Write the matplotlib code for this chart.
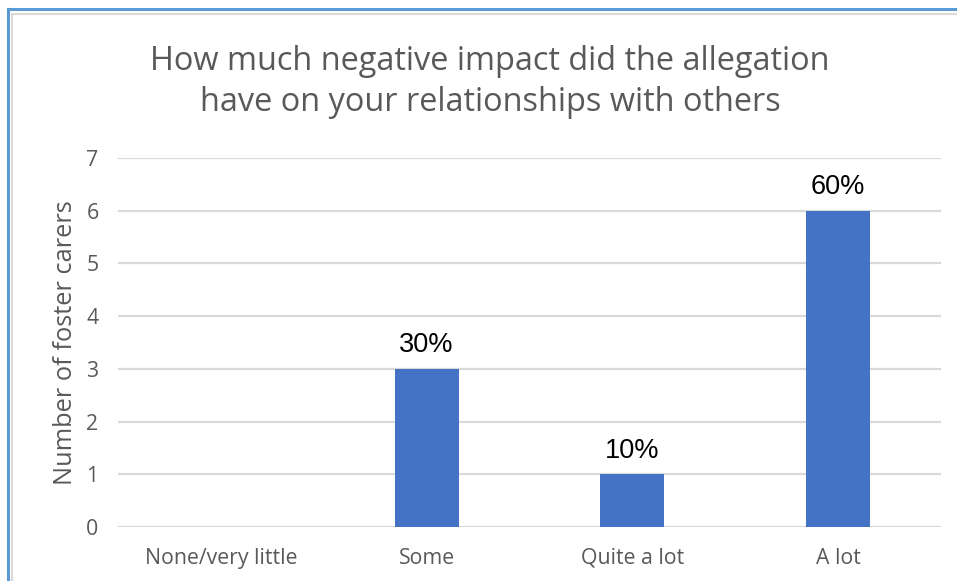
import matplotlib.pyplot as plt
from matplotlib.lines import Line2D

categories = ["None/very little", "Some", "Quite a lot", "A lot"]
carers = [0, 3, 1, 6]
pct_labels = ["", "30%", "10%", "60%"]
y_ticks = [0, 1, 2, 3, 4, 5, 6, 7]

BAR = "#4472C4"
TEXT = "#595959"
GRID = "#D9D9D9"

W, H = 957, 581
fig = plt.figure(figsize=(W / 100, H / 100), dpi=100)
fig.patch.set_facecolor("white")

# plot area in pixel coordinates
left, right, top, bottom = 118, 941, 158, 527
ax = fig.add_axes([left / W, 1 - bottom / H, (right - left) / W, (bottom - top) / H])

x = range(len(categories))
bars = ax.bar(x, carers, width=0.31, color=BAR, zorder=3)
for b, v, lab in zip(bars, carers, pct_labels):
    if lab:
        ax.text(b.get_x() + b.get_width() / 2, v + 0.2, lab, ha="center", va="bottom",
                fontsize=19.5, family="Liberation Sans", color="black")

ax.set_xlim(-0.5, len(categories) - 0.5)
ax.set_ylim(0, 7)
ax.set_yticks(y_ticks)
ax.yaxis.grid(True, color=GRID, linewidth=1.6, zorder=0)
ax.set_axisbelow(True)
for s in ax.spines.values():
    s.set_visible(False)
ax.tick_params(length=0, labelsize=15.3, labelcolor=TEXT, pad=14)
ax.tick_params(axis="x", pad=15)
ax.set_xticks(list(x))
ax.set_xticklabels(categories, family="Open Sans")
for t in ax.get_yticklabels():
    t.set_family("Open Sans")

ax.set_ylabel("Number of foster carers", fontsize=18.3, color=TEXT, family="Open Sans", labelpad=6)

fig.text(490 / W, 1 - 82 / H, "How much negative impact did the allegation\nhave on your relationships with others",
         ha="center", va="center", fontsize=23.4, color=TEXT, family="Open Sans", linespacing=1.3)

# frame lines along top and left edge
fig.add_artist(Line2D([8 / W, 8 / W], [0, 1 - 8.5 / H], color="#5B9BD5", linewidth=2.2))
fig.add_artist(Line2D([8 / W, 1], [1 - 8.5 / H, 1 - 8.5 / H], color="#5B9BD5", linewidth=2.2))
fig.add_artist(Line2D([11.5 / W, 11.5 / W], [0, 1 - 13.5 / H], color="#DADADA", linewidth=1.5))
fig.add_artist(Line2D([11.5 / W, 1], [1 - 13.5 / H, 1 - 13.5 / H], color="#DADADA", linewidth=1.5))

fig.savefig("out.png", dpi=100)
